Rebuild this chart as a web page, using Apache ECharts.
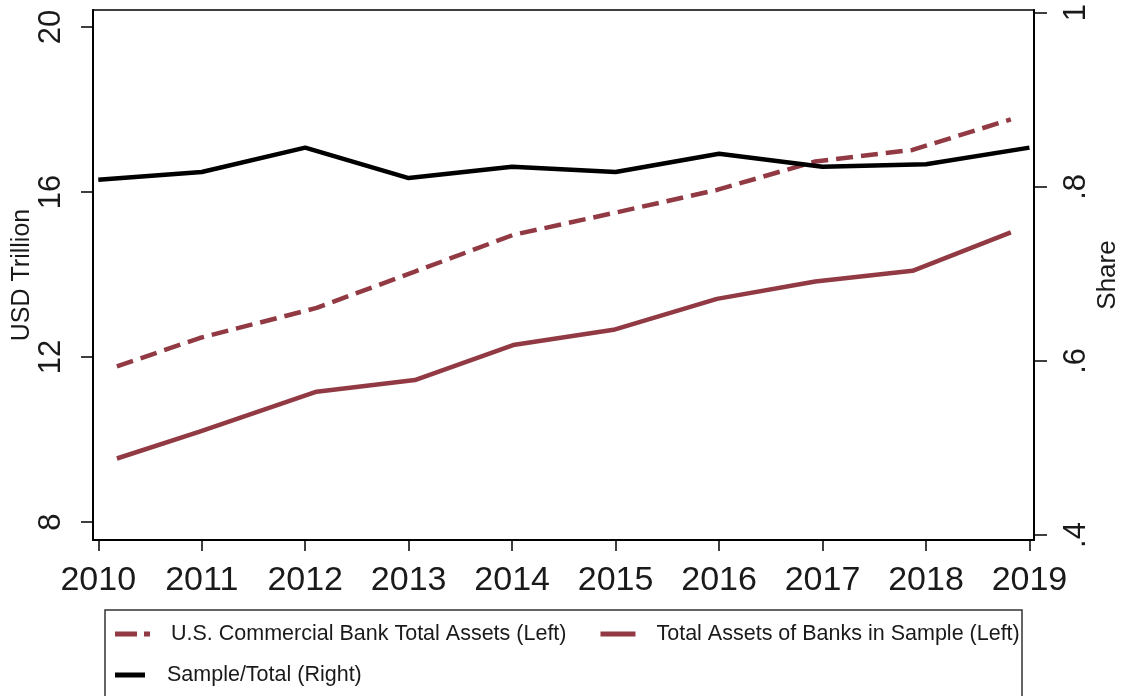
<!DOCTYPE html>
<html>
<head>
<meta charset="utf-8">
<script src="https://cdn.jsdelivr.net/npm/echarts@6/dist/echarts.min.js"></script>
<style>
  html, body { margin: 0; padding: 0; background: #fff; }
  #chart { width: 1125px; height: 696px; }
</style>
</head>
<body>
<div id="chart"></div>
<script>
// Annual observation years (share series) and tick years
const years = [2010, 2011, 2012, 2013, 2014, 2015, 2016, 2017, 2018, 2019];
// Observation dates of the asset series (fractional years)
const bankDates = [2010.18, 2010.98, 2012.11, 2013.06, 2014.01, 2014.98, 2015.98, 2016.93, 2017.87, 2018.82];
// U.S. commercial bank total assets, USD trillion
const commercialTotal = [11.77, 12.46, 13.19, 14.07, 14.96, 15.49, 16.05, 16.74, 17.02, 17.76];
// Total assets of banks in sample, USD trillion
const sampleAssets = [9.54, 10.19, 11.16, 11.44, 12.29, 12.66, 13.41, 13.83, 14.09, 15.02];
// Sample / total share
const shareOfTotal = [0.808, 0.817, 0.845, 0.810, 0.823, 0.817, 0.838, 0.823, 0.826, 0.845];

// Axis tick values
const leftTicks = [8, 12, 16, 20];
const rightTicks = [0.4, 0.6, 0.8, 1];

const seriesNames = [
  'U.S. Commercial Bank Total Assets (Left)',
  'Total Assets of Banks in Sample (Left)',
  'Sample/Total (Right)'
];

const RED = '#923a44';
const FONT = 'Liberation Sans, Arial, sans-serif';
const TXT = '#1a1a1a';

const zip = (xs, ys) => xs.map((x, i) => [x, ys[i]]);

const chart = echarts.init(document.getElementById('chart'), null, { renderer: 'canvas' });

chart.setOption({
  animation: false,
  backgroundColor: '#fff',
  textStyle: { fontFamily: FONT, color: TXT },
  grid: {
    left: 93, right: 91, top: 10, bottom: 156,
    show: true, borderColor: '#000', borderWidth: 1.5,
    containLabel: false, outerBoundsMode: 'none'
  },
  xAxis: {
    type: 'value',
    min: 2009.949, max: 2019.044,
    splitLine: { show: false },
    axisLine: { show: true, onZero: false, lineStyle: { color: '#000', width: 2 } },
    axisTick: { show: true, length: 11, customValues: years, lineStyle: { color: '#000', width: 1.5 } },
    axisLabel: {
      customValues: years, margin: 24,
      fontSize: 34, fontFamily: FONT, color: TXT,
      formatter: v => String(Math.round(v))
    }
  },
  yAxis: [
    {
      type: 'value', position: 'left',
      min: 7.564, max: 20.412,
      name: 'USD Trillion', nameLocation: 'middle', nameRotate: 90, nameGap: 58,
      nameMoveOverlap: false,
      nameTextStyle: { fontSize: 25, fontFamily: FONT, color: TXT },
      splitLine: { show: false },
      axisLine: { show: true, onZero: false, lineStyle: { color: '#000', width: 2 } },
      axisTick: { show: true, length: 12, customValues: leftTicks, lineStyle: { color: '#000', width: 1.5 } },
      axisLabel: {
        customValues: leftTicks, rotate: 90, margin: 26,
        fontSize: 31, fontFamily: FONT, color: TXT,
        formatter: v => String(Math.round(v))
      }
    },
    {
      type: 'value', position: 'right',
      min: 0.3943, max: 1.0031,
      name: 'Share', nameLocation: 'middle', nameRotate: 90, nameGap: 61,
      nameMoveOverlap: false,
      nameTextStyle: { fontSize: 26, fontFamily: FONT, color: TXT },
      splitLine: { show: false },
      axisLine: { show: true, onZero: false, lineStyle: { color: '#000', width: 2 } },
      axisTick: { show: true, length: 13, customValues: rightTicks, lineStyle: { color: '#000', width: 1.5 } },
      axisLabel: {
        customValues: rightTicks, rotate: 90, margin: 27,
        fontSize: 31, fontFamily: FONT, color: TXT,
        formatter: v => (Math.abs(v - 1) < 1e-9 ? '1' : v.toFixed(1).replace(/^0/, ''))
      }
    }
  ],
  legend: [
    {
      left: 115, top: 623, padding: 0, itemGap: 34,
      itemWidth: 35, itemHeight: 5, symbolKeepAspect: false,
      selectedMode: false,
      itemStyle: { borderWidth: 0 },
      textStyle: { fontSize: 21.5, fontFamily: FONT, color: TXT, padding: [0, 0, 0, 16] },
      data: [
        { name: seriesNames[0], icon: 'path://M0,0H22V5H0Z M29,0H35V5H29Z' },
        { name: seriesNames[1], icon: 'rect' }
      ]
    },
    {
      left: 115, top: 664, padding: 0,
      itemWidth: 30, itemHeight: 5, symbolKeepAspect: false,
      selectedMode: false,
      itemStyle: { borderWidth: 0 },
      textStyle: { fontSize: 21.5, fontFamily: FONT, color: TXT, padding: [0, 0, 0, 17] },
      data: [{ name: seriesNames[2], icon: 'rect' }]
    }
  ],
  graphic: [
    {
      type: 'rect', silent: true,
      shape: { x: 105, y: 610, width: 917, height: 100 },
      style: { fill: 'none', stroke: '#333', lineWidth: 1.5 }
    }
  ],
  series: [
    {
      name: seriesNames[0], type: 'line', yAxisIndex: 0,
      data: zip(bankDates, commercialTotal),
      symbol: 'none', color: RED,
      lineStyle: { color: RED, width: 4.5, type: [17, 8] }
    },
    {
      name: seriesNames[1], type: 'line', yAxisIndex: 0,
      data: zip(bankDates, sampleAssets),
      symbol: 'none', color: RED,
      lineStyle: { color: RED, width: 4.5 }
    },
    {
      name: seriesNames[2], type: 'line', yAxisIndex: 1,
      data: zip(years, shareOfTotal),
      symbol: 'none', color: '#000',
      lineStyle: { color: '#000', width: 4.5 }
    }
  ]
});
</script>
</body>
</html>
